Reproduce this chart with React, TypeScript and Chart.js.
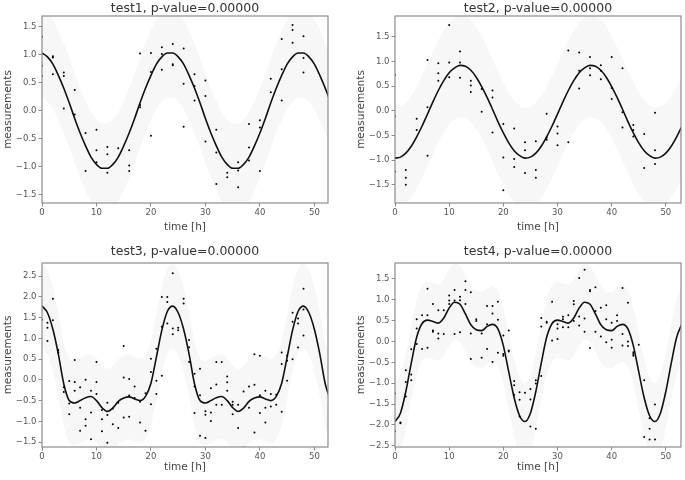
import React, { useEffect, useRef } from "react";
import { Chart, registerables } from "chart.js";

Chart.register(...registerables);

const FONT = "'DejaVu Sans', sans-serif";

// hours at which the fitted curve / confidence band were read
const fitHours = [0,1,2,3,4,5,6,7,8,9,10,11,12,13,14,15,16,17,18,19,20,21,22,23,24,25,26,27,28,29,30,31,32,33,34,35,36,37,38,39,40,41,42,43,44,45,46,47,48,49,50,51,52,53];

const xTicks = [0, 10, 20, 30, 40, 50];

// ---------- test1 ----------
const test1Fit = [1.03,0.96,0.83,0.63,0.40,0.14,-0.14,-0.40,-0.63,-0.83,-0.96,-1.03,-1.03,-0.96,-0.83,-0.63,-0.40,-0.14,0.14,0.40,0.63,0.83,0.96,1.03,1.03,0.96,0.83,0.63,0.40,0.14,-0.14,-0.40,-0.63,-0.83,-0.96,-1.03,-1.03,-0.96,-0.83,-0.63,-0.40,-0.14,0.14,0.40,0.63,0.83,0.96,1.03,1.03,0.96,0.83,0.63,0.40,0.14];
const test1Upper = [1.83,1.76,1.63,1.43,1.20,0.94,0.66,0.40,0.17,-0.03,-0.16,-0.23,-0.23,-0.16,-0.03,0.17,0.40,0.66,0.94,1.20,1.43,1.63,1.76,1.83,1.83,1.76,1.63,1.43,1.20,0.94,0.66,0.40,0.17,-0.03,-0.16,-0.23,-0.23,-0.16,-0.03,0.17,0.40,0.66,0.94,1.20,1.43,1.63,1.76,1.83,1.83,1.76,1.63,1.43,1.20,0.94];
const test1Lower = [0.23,0.16,0.03,-0.17,-0.40,-0.66,-0.94,-1.20,-1.43,-1.63,-1.76,-1.83,-1.83,-1.76,-1.63,-1.43,-1.20,-0.94,-0.66,-0.40,-0.17,0.03,0.16,0.23,0.23,0.16,0.03,-0.17,-0.40,-0.66,-0.94,-1.20,-1.43,-1.63,-1.76,-1.83,-1.83,-1.76,-1.63,-1.43,-1.20,-0.94,-0.66,-0.40,-0.17,0.03,0.16,0.23,0.23,0.16,0.03,-0.17,-0.40,-0.66];
const test1SampleHours = [0,2,4,6,8,10,12,14,16,18,20,22,24,26,28,30,32,34,36,38,40,42,44,46,48];
const test1Samples = [[1.32,0.80,0.62],[0.97,0.95,0.65],[0.68,0.62,0.04],[0.37,-0.07],[-0.40,-1.08],[-0.34,-0.71,-0.92],[-0.65,-0.78,-1.11],[-0.67],[-0.71,-0.98,-1.08],[1.02,0.10,0.06],[1.03,0.69,-0.45],[1.13,1.01,0.73],[1.19,0.83,0.81],[1.11,0.48,-0.29],[0.65,0.44,0.18],[0.54,0.26,-0.55],[-0.34,-0.75,-1.31],[-1.11,-1.19],[-0.92,-1.07,-1.37],[-0.24,-0.66,-0.89],[-0.17,-0.30,-1.08],[0.57,0.33],[1.28,0.74,0.18],[1.53,1.44,1.21],[1.33,0.94,0.68]];
const test1YTicks = [-1.5,-1,-0.5,0,0.5,1,1.5];

// ---------- test2 ----------
const test2Fit = [-0.96,-0.94,-0.86,-0.72,-0.53,-0.31,-0.07,0.18,0.41,0.61,0.77,0.87,0.92,0.90,0.82,0.68,0.49,0.27,0.03,-0.22,-0.45,-0.65,-0.81,-0.91,-0.96,-0.94,-0.86,-0.72,-0.53,-0.31,-0.07,0.18,0.41,0.61,0.77,0.87,0.92,0.90,0.82,0.68,0.49,0.27,0.03,-0.22,-0.45,-0.65,-0.81,-0.91,-0.96,-0.94,-0.86,-0.72,-0.53,-0.31];
const test2Upper = [0.12,0.10,0.16,0.30,0.49,0.71,0.95,1.20,1.43,1.63,1.79,1.89,1.94,1.92,1.84,1.70,1.51,1.29,1.05,0.80,0.57,0.37,0.21,0.11,0.06,0.08,0.16,0.30,0.49,0.71,0.95,1.20,1.43,1.63,1.79,1.89,1.94,1.92,1.84,1.70,1.51,1.29,1.05,0.80,0.57,0.37,0.21,0.11,0.06,0.08,0.16,0.30,0.49,0.71];
const test2Lower = [-2.01,-1.99,-1.91,-1.77,-1.58,-1.36,-1.12,-0.87,-0.64,-0.44,-0.28,-0.18,-0.13,-0.15,-0.23,-0.37,-0.56,-0.78,-1.02,-1.27,-1.50,-1.70,-1.86,-1.96,-2.01,-1.99,-1.91,-1.77,-1.58,-1.36,-1.12,-0.87,-0.64,-0.44,-0.28,-0.18,-0.13,-0.15,-0.23,-0.37,-0.56,-0.78,-1.02,-1.27,-1.50,-1.70,-1.86,-1.96,-2.01,-1.99,-1.91,-1.77,-1.58,-1.36];
const test2SampleHours = [0,2,4,6,8,10,12,14,16,18,20,22,24,26,28,30,32,34,36,38,40,42,44,46,48];
const test2Samples = [[0.73,-0.11,-1.23],[-1.20,-1.36,-1.50],[-0.16,-0.39],[1.03,0.07,-0.91],[0.96,0.76,0.61],[1.74,0.98,0.68],[1.20,0.98,0.67],[0.61,0.51,0.38],[0.44,-0.02],[0.41,0.27,-0.44],[-0.27,-0.95,-1.61],[-0.36,-0.98,-1.14],[-0.64,-0.80,-1.26],[-0.62,-1.20,-1.36],[-0.06,-0.54,-0.59],[-0.32,-0.46,-0.70],[1.22,-0.64],[1.18,0.81,0.45],[1.09,0.86,0.72],[0.92,0.81,0.64],[1.09,0.46,0.24],[0.86,-0.03,-0.34],[-0.29,-0.39,-0.52],[-0.47,-1.16],[-0.04,-0.80,-1.08]];
const test2YTicks = [-1.5,-1,-0.5,0,0.5,1,1.5];

// ---------- test3 ----------
const test3Fit = [1.78,1.62,1.22,0.62,-0.10,-0.50,-0.56,-0.50,-0.43,-0.40,-0.50,-0.67,-0.76,-0.68,-0.52,-0.44,-0.41,-0.46,-0.50,-0.40,-0.08,0.55,1.20,1.65,1.78,1.62,1.22,0.62,-0.10,-0.50,-0.56,-0.50,-0.43,-0.40,-0.50,-0.67,-0.76,-0.68,-0.52,-0.44,-0.41,-0.46,-0.50,-0.40,-0.08,0.55,1.20,1.65,1.78,1.62,1.22,0.62,-0.10,-0.50];
const test3Upper = [2.80,2.64,2.24,1.64,0.92,0.52,0.46,0.52,0.59,0.62,0.52,0.35,0.26,0.34,0.50,0.58,0.61,0.56,0.52,0.62,0.94,1.57,2.22,2.67,2.80,2.64,2.24,1.64,0.92,0.52,0.46,0.52,0.59,0.62,0.52,0.35,0.26,0.34,0.50,0.58,0.61,0.56,0.52,0.62,0.94,1.57,2.22,2.67,2.80,2.64,2.24,1.64,0.92,0.52];
const test3Lower = [0.76,0.60,0.20,-0.40,-1.12,-1.52,-1.58,-1.52,-1.45,-1.42,-1.52,-1.69,-1.78,-1.70,-1.54,-1.46,-1.43,-1.48,-1.52,-1.42,-1.10,-0.47,0.18,0.63,0.76,0.60,0.20,-0.40,-1.12,-1.52,-1.58,-1.52,-1.45,-1.42,-1.52,-1.69,-1.78,-1.70,-1.54,-1.46,-1.43,-1.48,-1.52,-1.42,-1.10,-0.47,0.18,0.63,0.76,0.60,0.20,-0.40,-1.12,-1.52];
const test3SampleHours = [0,1,2,3,4,5,6,7,8,9,10,11,12,13,14,15,16,17,18,19,20,21,22,23,24,25,26,27,28,29,30,31,32,33,34,35,36,37,38,39,40,41,42,43,44,45,46,47,48];
const test3Samples = [[1.45],[1.38,1.26,0.94],[1.96,1.44],[0.72,0.66],[-0.18,-0.29],[-0.03,-0.57,-0.83],[0.48,-0.05,-0.26],[-0.18,-0.67,-1.23],[0.00,-0.95,-1.11],[-0.26,-0.79,-1.43],[0.43,-0.05,-0.34],[-0.73,-0.95,-1.24],[-0.55,-0.85,-1.52],[-0.69,-1.07],[-0.55,-1.16,-1.64],[0.82,0.06,-0.91],[0.02,-0.38,-0.89],[-0.16,-0.44],[-0.53,-1.03],[-0.32,-1.23],[0.51,0.19,-0.59],[0.75,-0.02,-0.34],[2.00,1.28,0.10],[2.00,1.88,1.36],[2.57,1.24,1.10],[1.26,1.20],[1.96,1.84],[0.96,0.79,0.43],[0.15,-0.16,-0.80],[0.27,-0.37,-1.35],[-0.76,-0.84,-1.40],[-0.20,-0.79,-0.99],[0.43,-0.11,-0.60],[0.43,-0.60],[0.08,-0.06,-0.26],[-0.53,-0.60,-0.83],[-0.60,-1.16],[-0.28,-1.63],[-0.16,-0.67],[0.62,-0.12,-1.27],[0.58,-0.37,-0.80],[-0.26,-0.67,-1.03],[-0.34,-0.64],[-0.36,-0.60],[0.66,0.38,-0.77],[0.59,0.46,-0.02],[1.62,1.40,0.50],[1.48,1.36,0.78],[2.20,1.70,1.07]];
const test3YTicks = [-1.5,-1,-0.5,0,0.5,1,1.5,2,2.5];

// ---------- test4 ----------
const test4Fit = [-1.92,-1.72,-1.20,-0.52,0.10,0.43,0.51,0.48,0.44,0.56,0.80,0.94,0.89,0.66,0.40,0.28,0.26,0.36,0.41,0.30,-0.10,-0.73,-1.35,-1.78,-1.92,-1.72,-1.20,-0.52,0.10,0.43,0.51,0.48,0.44,0.56,0.80,0.94,0.89,0.66,0.40,0.28,0.26,0.36,0.41,0.30,-0.10,-0.73,-1.35,-1.78,-1.92,-1.72,-1.20,-0.52,0.10,0.43];
const test4Upper = [-1.00,-0.80,-0.28,0.40,1.02,1.35,1.43,1.40,1.36,1.48,1.72,1.86,1.81,1.58,1.32,1.20,1.18,1.28,1.33,1.22,0.82,0.19,-0.43,-0.86,-1.00,-0.80,-0.28,0.40,1.02,1.35,1.43,1.40,1.36,1.48,1.72,1.86,1.81,1.58,1.32,1.20,1.18,1.28,1.33,1.22,0.82,0.19,-0.43,-0.86,-1.00,-0.80,-0.28,0.40,1.02,1.35];
const test4Lower = [-2.82,-2.62,-2.10,-1.42,-0.80,-0.47,-0.39,-0.42,-0.46,-0.34,-0.10,0.04,-0.01,-0.24,-0.50,-0.62,-0.64,-0.54,-0.49,-0.60,-1.00,-1.63,-2.25,-2.68,-2.82,-2.62,-2.10,-1.42,-0.80,-0.47,-0.39,-0.42,-0.46,-0.34,-0.10,0.04,-0.01,-0.24,-0.50,-0.62,-0.64,-0.54,-0.49,-0.60,-1.00,-1.63,-2.25,-2.68,-2.82,-2.62,-2.10,-1.42,-0.80,-0.47];
const test4SampleHours = [0,1,2,3,4,5,6,7,8,9,10,11,12,13,14,15,16,17,18,19,20,21,22,23,24,25,26,27,28,29,30,31,32,33,34,35,36,37,38,39,40,41,42,43,44,45,46,47,48];
const test4Samples = [[-1.25,-2.15],[-1.94,-1.96],[-0.69,-0.97,-1.32],[-0.19,-0.79,-0.93],[0.53,0.31,-0.06],[0.63,-0.18],[1.26,0.63,-0.15],[0.90,0.26,0.23],[0.75,0.19,0.07],[0.75,0.18],[1.10,0.98,0.90],[1.23,0.98,0.18],[1.07,0.99,0.22],[1.44,1.23,0.90],[1.18,0.19,-0.42],[0.53,0.49],[0.19,-0.39],[0.85,0.41,-0.18],[0.85,0.67,-0.49],[0.95,0.52,-0.27],[0.14,-0.30,-0.34],[0.26,-0.22,-0.24],[-0.95,-1.05,-1.28],[-1.22,-1.40,-1.80],[-1.23],[-1.14,-1.39,-2.04],[-0.93,-1.01,-2.09],[0.56,0.36,-0.83],[0.47,0.45],[0.95,0.02],[0.41,0.31,0.06],[0.59,0.53,0.34],[0.63,0.34],[0.97,0.89,0.49],[1.52,0.60,0.38],[1.72,0.55,0.23],[1.23,1.20,-0.16],[1.30,0.73,0.23],[0.81,0.12],[0.87,0.53,-0.02],[0.45,0.04,-0.15],[0.63,0.49],[1.28,0.18,-0.10],[0.93,0.00,-0.11],[-0.26,-0.30,-0.34],[-0.08],[-0.93,-2.29],[-1.84,-2.09,-2.35],[-1.51,-2.35]];
const test4YTicks = [-2.5,-2,-1.5,-1,-0.5,0,0.5,1,1.5];

const framePlugin = {
  id: "frame",
  afterDatasetsDraw(chart: any) {
    const { ctx, chartArea } = chart;
    ctx.save();
    ctx.strokeStyle = "#8c8c8c";
    ctx.lineWidth = 1.2;
    ctx.strokeRect(chartArea.left, chartArea.top, chartArea.right - chartArea.left, chartArea.bottom - chartArea.top);
    ctx.restore();
  },
};

const fmt = (v: number) => Number(v).toFixed(1).replace("-", "\u2212");

type PanelProps = {
  title: string;
  fit: number[];
  upper: number[];
  lower: number[];
  sampleHours: number[];
  samples: number[][];
  yTicks: number[];
  yMin: number;
  yMax: number;
  xMax: number;
  left: number;
  top: number;
  width: number;
  height: number;
  titlePadTop: number;
  titlePadBottom: number;
  xAxisHeight: number;
};

function Panel(p: PanelProps) {
  const ref = useRef<HTMLCanvasElement>(null);
  useEffect(() => {
    const pair = (xs: number[], ys: number[]) => xs.map((x, i) => ({ x, y: ys[i] }));
    const pts: { x: number; y: number }[] = [];
    p.sampleHours.forEach((h, i) => p.samples[i].forEach((v) => pts.push({ x: h, y: v })));
    const chart = new Chart(ref.current as HTMLCanvasElement, {
      type: "line",
      data: {
        datasets: [
          {
            data: pts,
            showLine: false,
            pointRadius: 1,
            pointBorderWidth: 0,
            pointBackgroundColor: "#000",
            borderColor: "#000",
            order: 0,
          } as any,
          {
            data: pair(fitHours, p.fit),
            borderColor: "#111",
            borderWidth: 1.6,
            pointRadius: 0,
            cubicInterpolationMode: "monotone",
            fill: false,
            order: 1,
          },
          {
            data: pair(fitHours, p.upper),
            borderColor: "rgba(0,0,0,0)",
            borderWidth: 0,
            pointRadius: 0,
            cubicInterpolationMode: "monotone",
            backgroundColor: "#f7f7f7",
            fill: 3,
            order: 2,
          },
          {
            data: pair(fitHours, p.lower),
            borderColor: "rgba(0,0,0,0)",
            borderWidth: 0,
            pointRadius: 0,
            cubicInterpolationMode: "monotone",
            fill: false,
            order: 3,
          },
        ],
      },
      options: {
        animation: false,
        responsive: false,
        maintainAspectRatio: false,
        events: [],
        layout: { padding: { left: 0, right: 1, top: 0, bottom: 0 } },
        plugins: {
          legend: { display: false },
          tooltip: { enabled: false },
          title: {
            display: true,
            text: p.title,
            fullSize: false,
            color: "#333",
            font: { family: FONT, size: 12.5, weight: "normal" as any },
            padding: { top: p.titlePadTop, bottom: p.titlePadBottom },
          },
        },
        scales: {
          x: {
            type: "linear",
            min: 0,
            max: p.xMax,
            afterBuildTicks: (s: any) => {
              s.ticks = xTicks.map((v) => ({ value: v }));
            },
            afterFit: (s: any) => {
              s.height = p.xAxisHeight;
            },
            border: { display: false },
            grid: { drawOnChartArea: false, drawTicks: true, tickLength: 3.5, color: "#8c8c8c", lineWidth: 1 },
            ticks: {
              autoSkip: false,
              maxRotation: 0,
              padding: 1.5,
              color: "#555",
              font: { family: FONT, size: 8.5 },
              callback: (v: any) => String(v),
            },
            title: {
              display: true,
              text: "time [h]",
              color: "#444",
              font: { family: FONT, size: 10.5 },
              padding: { top: 0, bottom: 6 },
            },
          },
          y: {
            type: "linear",
            min: p.yMin,
            max: p.yMax,
            afterBuildTicks: (s: any) => {
              s.ticks = p.yTicks.map((v) => ({ value: v }));
            },
            afterFit: (s: any) => {
              s.width = 42;
            },
            border: { display: false },
            grid: { drawOnChartArea: false, drawTicks: true, tickLength: 3.5, color: "#8c8c8c", lineWidth: 1 },
            ticks: {
              autoSkip: false,
              padding: 2,
              color: "#555",
              font: { family: FONT, size: 8.5 },
              callback: (v: any) => fmt(v),
            },
            title: {
              display: true,
              text: "measurements",
              color: "#444",
              font: { family: FONT, size: 10.5 },
              padding: { top: 2, bottom: 0 },
            },
          },
        },
      },
      plugins: [framePlugin],
    });
    return () => chart.destroy();
  }, []);
  return (
    <canvas
      ref={ref}
      width={p.width}
      height={p.height}
      style={{ position: "absolute", left: p.left, top: p.top, width: p.width, height: p.height }}
    />
  );
}

export default function App() {
  return (
    <div style={{ position: "absolute", left: 0, top: 0, width: 685, height: 480, overflow: "hidden", background: "#fff" }}>
      <Panel title="test1, p-value=0.00000" fit={test1Fit} upper={test1Upper} lower={test1Lower}
        sampleHours={test1SampleHours} samples={test1Samples} yTicks={test1YTicks}
        yMin={-1.65} yMax={1.69} xMax={52.5}
        left={0} top={0} width={332} height={240} titlePadTop={1} titlePadBottom={0} xAxisHeight={37} />
      <Panel title="test2, p-value=0.00000" fit={test2Fit} upper={test2Upper} lower={test2Lower}
        sampleHours={test2SampleHours} samples={test2Samples} yTicks={test2YTicks}
        yMin={-1.87} yMax={1.92} xMax={52.8}
        left={353} top={0} width={332} height={240} titlePadTop={1} titlePadBottom={0} xAxisHeight={37} />
      <Panel title="test3, p-value=0.00000" fit={test3Fit} upper={test3Upper} lower={test3Lower}
        sampleHours={test3SampleHours} samples={test3Samples} yTicks={test3YTicks}
        yMin={-1.62} yMax={2.82} xMax={52.5}
        left={0} top={244} width={332} height={236} titlePadTop={0.2} titlePadBottom={3.8} xAxisHeight={33} />
      <Panel title="test4, p-value=0.00000" fit={test4Fit} upper={test4Upper} lower={test4Lower}
        sampleHours={test4SampleHours} samples={test4Samples} yTicks={test4YTicks}
        yMin={-2.53} yMax={1.88} xMax={52.8}
        left={353} top={244} width={332} height={236} titlePadTop={0.2} titlePadBottom={3.8} xAxisHeight={33} />
    </div>
  );
}
